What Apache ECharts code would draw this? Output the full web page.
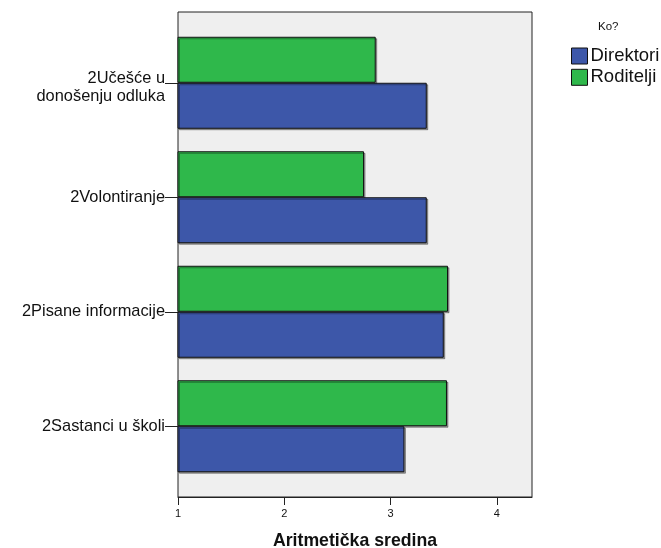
<!DOCTYPE html>
<html><head><meta charset="utf-8">
<script src="https://cdn.jsdelivr.net/npm/echarts@6/dist/echarts.min.js"></script>
<style>html,body{margin:0;padding:0;background:#fff}#c{width:661px;height:548px}</style>
</head><body><div id="c"></div>
<script>
const categories = ['2Sastanci u školi', '2Pisane informacije', '2Volontiranje', '2Učešće u\ndonošenju odluka'];
const direktori = [3.13, 3.50, 3.34, 3.34];
const roditelji = [3.53, 3.54, 2.75, 2.86];
const seriesNames = ['Direktori', 'Roditelji'];
const xTicks = [1, 2, 3, 4];

const font = 'Arial, "Liberation Sans", sans-serif';
const chart = echarts.init(document.getElementById('c'), null, {renderer: 'canvas'});
const barStyle = c => ({color: c, borderColor: '#111', borderWidth: 1,
  shadowColor: 'rgba(0,0,0,0.35)', shadowOffsetX: 1.5, shadowOffsetY: 1.5, shadowBlur: 0});
chart.setOption({
  animation: false,
  backgroundColor: '#fff',
  title: {text: 'Ko?', left: 598, top: 21, padding: 0,
    textStyle: {fontFamily: font, fontSize: 11.5, fontWeight: 'normal', color: '#111'}},
  legend: {
    left: 571, top: 46.5, orient: 'vertical', itemWidth: 16, itemHeight: 16, itemGap: 2.3,
    padding: 0, data: seriesNames, icon: 'rect',
    itemStyle: {borderColor: '#111', borderWidth: 1},
    textStyle: {fontFamily: font, fontSize: 18.5, lineHeight: 18, color: '#111', padding: [0, 0, 0, -2]}
  },
  grid: [
    {left: 178, right: 129, top: 12, bottom: 51, show: true, backgroundColor: '#efefef', borderColor: '#222', borderWidth: 1, containLabel: false, outerBoundsMode: 'none'},
    {left: 178, right: 129, top: 25.5, bottom: 64.5, containLabel: false, outerBoundsMode: 'none'}
  ],
  xAxis: [
    {gridIndex: 0, type: 'value', min: 1, max: 4.33, interval: 1,
      axisLine: {show: true, lineStyle: {color: '#222'}},
      axisTick: {show: true, length: 8, lineStyle: {color: '#222'}, customValues: xTicks},
      axisLabel: {fontFamily: font, fontSize: 11, color: '#111', margin: 11, customValues: xTicks},
      splitLine: {show: false},
      name: 'Aritmetička sredina', nameLocation: 'middle', nameGap: 35,
      nameTextStyle: {fontFamily: font, fontSize: 17.7, fontWeight: 'bold', color: '#111'}},
    {gridIndex: 1, type: 'value', min: 1, max: 4.33, show: false}
  ],
  yAxis: [
    {gridIndex: 0, type: 'value', min: 0, max: 1, show: false},
    {gridIndex: 1, type: 'category', data: categories,
      axisLine: {show: false},
      axisTick: {show: true, alignWithLabel: true, length: 13, lineStyle: {color: '#222'}},
      axisLabel: {fontFamily: font, fontSize: 16.4, color: '#111', margin: 13, lineHeight: 18,
        formatter: v => v.indexOf('\n') >= 0
          ? '{s| }\n' + v.split('\n').map(s => '{m|' + s + '}').join('\n') : v,
        rich: {s: {fontSize: 1, lineHeight: 10}, m: {fontFamily: font, fontSize: 16.4, color: '#111', lineHeight: 18}}}}
  ],
  series: [
    {name: seriesNames[1], type: 'bar', xAxisIndex: 1, yAxisIndex: 1, data: roditelji,
      barWidth: 46, barGap: '0%', itemStyle: barStyle('#2fb84b')},
    {name: seriesNames[0], type: 'bar', xAxisIndex: 1, yAxisIndex: 1, data: direktori,
      barWidth: 46, barGap: '0%', itemStyle: barStyle('#3d57a9')}
  ]
});
</script></body></html>
